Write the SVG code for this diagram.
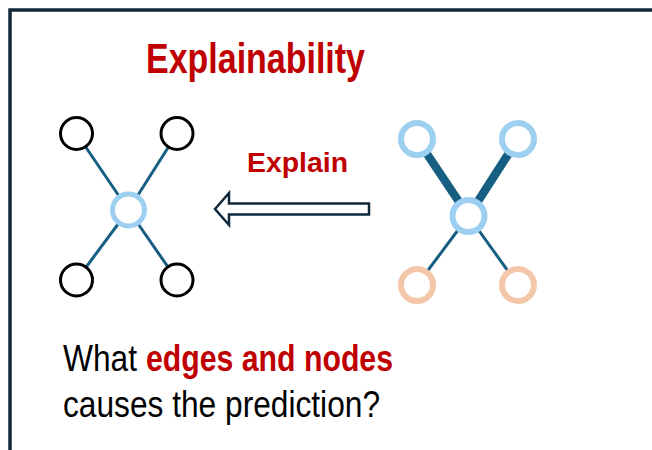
<svg xmlns="http://www.w3.org/2000/svg" width="652" height="450" viewBox="0 0 652 450">
  <style>
    .frame { fill: none; stroke: #10293a; stroke-width: 3.5; }
    .edge { stroke: #175f82; stroke-width: 3; stroke-linecap: butt; }
    .edge-strong { stroke: #175f82; stroke-width: 8.5; stroke-linecap: butt; }
    .plain { fill: #ffffff; stroke: #000000; stroke-width: 3; }
    .focus { fill: #ffffff; stroke: #9dcff1; stroke-width: 5; }
    .focus-big { fill: #ffffff; stroke: #9dcff1; stroke-width: 6; }
    .other { fill: #ffffff; stroke: #f5c7aa; stroke-width: 6; }
    .red { fill: #c00000; font-family: "Liberation Sans", Arial, sans-serif; font-weight: bold; }
    .body { fill: #000000; font-family: "Liberation Sans", Arial, sans-serif; font-size: 36px; }
  </style>

  <rect x="0" y="0" width="652" height="450" fill="#ffffff"/>
  <!-- slide frame, running off the right and bottom edges -->
  <path class="frame" d="M10,470 V10 H670"/>

  <text class="red" x="146" y="73" font-size="42" textLength="219" lengthAdjust="spacingAndGlyphs">Explainability</text>

  <!-- connectors -->
  <g id="connectors">
    <line class="edge" x1="76.5" y1="133.5" x2="128.5" y2="210"/>
    <line class="edge" x1="177" y1="133.5" x2="128.5" y2="210"/>
    <line class="edge" x1="76.5" y1="280" x2="128.5" y2="210"/>
    <line class="edge" x1="177" y1="280" x2="128.5" y2="210"/>

    <line class="edge-strong" x1="417" y1="139" x2="468.5" y2="216"/>
    <line class="edge-strong" x1="518" y1="139" x2="468.5" y2="216"/>
    <line class="edge" x1="417" y1="285" x2="468.5" y2="216"/>
    <line class="edge" x1="518" y1="285" x2="468.5" y2="216"/>

    <!-- explain arrow -->
    <polygon points="215,209 229,193 229,203.5 369,203.5 369,214.5 229,214.5 229,225" fill="#ffffff" stroke="#10293a" stroke-width="2.5" stroke-linejoin="miter"/>
  </g>

  <text class="red" x="247" y="172" font-size="27.5" textLength="101" lengthAdjust="spacingAndGlyphs">Explain</text>

  <!-- input graph -->
  <g id="left-top-left"><circle class="plain" cx="76.5" cy="133.5" r="16"/></g>
  <g id="left-top-right"><circle class="plain" cx="177" cy="133.5" r="16"/></g>
  <g id="left-center"><circle class="focus" cx="128.5" cy="210" r="16"/></g>
  <g id="left-bottom-left"><circle class="plain" cx="76.5" cy="280" r="16"/></g>
  <g id="left-bottom-right"><circle class="plain" cx="177" cy="280" r="16"/></g>

  <!-- explained graph -->
  <g id="right-top-left"><circle class="focus-big" cx="417" cy="139" r="16"/></g>
  <g id="right-top-right"><circle class="focus-big" cx="518" cy="139" r="16"/></g>
  <g id="right-center"><circle class="focus-big" cx="468.5" cy="216" r="16"/></g>
  <g id="right-bottom-left"><circle class="other" cx="417" cy="285" r="16"/></g>
  <g id="right-bottom-right"><circle class="other" cx="518" cy="285" r="16"/></g>

  <text class="body" x="63" y="371" textLength="74" lengthAdjust="spacingAndGlyphs">What</text>
  <text class="red" x="146" y="371" font-size="36" textLength="247" lengthAdjust="spacingAndGlyphs">edges and nodes</text>
  <text class="body" x="63" y="417" textLength="317" lengthAdjust="spacingAndGlyphs">causes the prediction?</text>
</svg>
